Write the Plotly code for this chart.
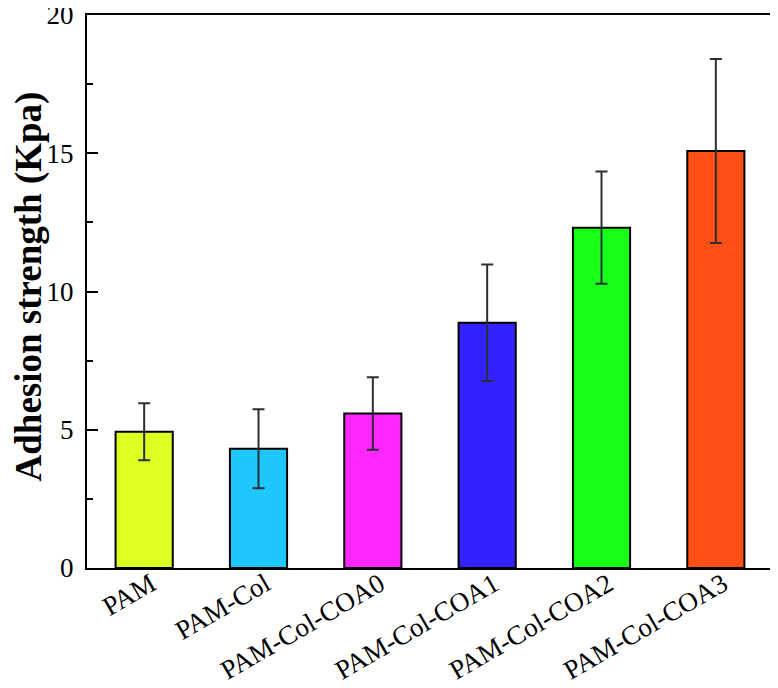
import plotly.graph_objects as go

categories = ["PAM", "PAM-Col", "PAM-Col-COA0", "PAM-Col-COA1", "PAM-Col-COA2", "PAM-Col-COA3"]
values = [4.93, 4.31, 5.59, 8.87, 12.31, 15.08]
errors = [1.03, 1.43, 1.31, 2.11, 2.03, 3.33]
colors = ["#DDFF22", "#1EC8FF", "#FF26FF", "#3322FF", "#16FF16", "#FF4F16"]
y_title = "<b>Adhesion strength (Kpa)</b>"

font_family = "Liberation Serif, Times New Roman, serif"

fig = go.Figure()
fig.add_trace(go.Bar(
    x=categories,
    y=values,
    width=0.5,
    marker=dict(color=colors, line=dict(color="black", width=2)),
    error_y=dict(type="data", array=errors, visible=True,
                 color="#2a2f33", thickness=2, width=6),
))

fig.add_annotation(
    text=y_title, xref="paper", yref="paper", x=0, y=0.5,
    xanchor="center", yanchor="middle", xshift=-59, yshift=5,
    textangle=-90, showarrow=False,
    font=dict(size=37, family=font_family, color="black"),
)

fig.update_layout(
    width=778, height=688,
    margin=dict(l=79, r=13, t=7, b=128),
    paper_bgcolor="white", plot_bgcolor="white",
    showlegend=False,
    font=dict(family=font_family, color="black"),
    xaxis=dict(
        range=[-0.5, 5.5], automargin=False,
        showline=True, linecolor="black", linewidth=2, mirror=True,
        ticks="", tickangle=-30, ticklabelstandoff=-12, ticklabelshift=7,
        ticklabeloverflow="allow",
        tickfont=dict(size=27, family=font_family, color="black"),
        showgrid=False,
    ),
    yaxis=dict(
        range=[0, 20], automargin=False,
        tickvals=[0, 5, 10, 15, 20],
        showline=True, linecolor="black", linewidth=2, mirror=True,
        ticks="inside", ticklen=11, tickwidth=2, tickcolor="black",
        ticklabelstandoff=6, ticklabeloverflow="allow",
        minor=dict(tickvals=[2.5, 7.5, 12.5, 17.5], ticks="inside", ticklen=6,
                   tickwidth=2, tickcolor="black", showgrid=False),
        tickfont=dict(size=27, family=font_family, color="black"),
        showgrid=False, zeroline=False,
    ),
)

fig.write_html("out.html")
